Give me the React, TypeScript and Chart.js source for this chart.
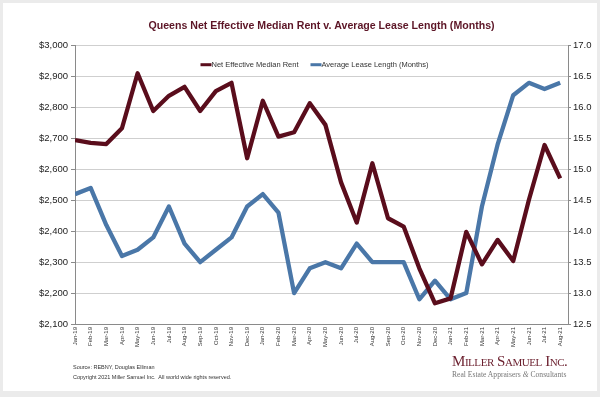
import React, { useEffect, useRef } from "react";
import { Chart, registerables } from "chart.js";

Chart.register(...registerables);

const labels = [
  "Jan-19", "Feb-19", "Mar-19", "Apr-19", "May-19", "Jun-19", "Jul-19", "Aug-19",
  "Sep-19", "Oct-19", "Nov-19", "Dec-19", "Jan-20", "Feb-20", "Mar-20", "Apr-20",
  "May-20", "Jun-20", "Jul-20", "Aug-20", "Sep-20", "Oct-20", "Nov-20", "Dec-20",
  "Jan-21", "Feb-21", "Mar-21", "Apr-21", "May-21", "Jun-21", "Jul-21", "Aug-21",
];

const rent = [
  2695, 2686, 2682, 2733, 2911, 2789, 2838, 2867, 2789, 2853, 2880, 2636,
  2822, 2706, 2720, 2814, 2744, 2558, 2428, 2620, 2442, 2415, 2280, 2167,
  2183, 2398, 2293, 2372, 2304, 2501, 2679, 2571,
];

const lease = [
  14.6, 14.7, 14.1, 13.6, 13.7, 13.9, 14.4, 13.8, 13.5, 13.7, 13.9, 14.4,
  14.6, 14.3, 13.0, 13.4, 13.5, 13.4, 13.8, 13.5, 13.5, 13.5, 12.9, 13.2,
  12.9, 13.0, 14.4, 15.4, 16.2, 16.4, 16.3, 16.4,
];

const seriesNames = ["Net Effective Median Rent", "Average Lease Length (Months)"];
const seriesColors = ["#5a0d1c", "#4a77a8"];
const titleText = "Queens Net Effective Median Rent v. Average Lease Length (Months)";

const FONT = "'Liberation Sans', Arial, Helvetica, sans-serif";

const legendPlugin = {
  id: "innerLegend",
  afterDatasetsDraw(chart: any) {
    const ctx = chart.ctx;
    const area = chart.chartArea;
    ctx.save();
    ctx.font = `7.5px ${FONT}`;
    ctx.textBaseline = "middle";
    const marker = 11;
    const gap = 12;
    const widths = chart.data.datasets.map((d: any) => marker + ctx.measureText(d.label).width);
    const total = widths.reduce((a: number, b: number) => a + b, 0) + gap * (widths.length - 1);
    let x = (area.left + area.right) / 2 - 7 - total / 2;
    const y = area.top + 19;
    chart.data.datasets.forEach((d: any, i: number) => {
      ctx.fillStyle = d.borderColor;
      ctx.fillRect(x, y - 1.5, marker, 3);
      ctx.fillStyle = "#333";
      ctx.fillText(d.label, x + marker, y);
      x += widths[i] + gap;
    });
    ctx.restore();
  },
};

export default function App() {
  const ref = useRef<HTMLCanvasElement>(null);

  useEffect(() => {
    if (!ref.current) return;
    const chart = new Chart(ref.current, {
      type: "line",
      data: {
        datasets: [
          {
            label: seriesNames[0],
            data: rent.map((v, i) => ({ x: i, y: v })),
            borderColor: seriesColors[0],
            backgroundColor: seriesColors[0],
            borderWidth: 4.3,
            pointRadius: 0,
            tension: 0,
            borderJoinStyle: "round",
            yAxisID: "y",
          },
          {
            label: seriesNames[1],
            data: lease.map((v, i) => ({ x: i, y: v })),
            borderColor: seriesColors[1],
            backgroundColor: seriesColors[1],
            borderWidth: 4.3,
            pointRadius: 0,
            tension: 0,
            borderJoinStyle: "round",
            yAxisID: "y1",
          },
        ],
      },
      options: {
        animation: false,
        responsive: false,
        maintainAspectRatio: false,
        layout: { padding: 0 },
        plugins: {
          legend: { display: false },
          tooltip: { enabled: false },
          title: {
            display: true,
            text: titleText,
            fullSize: false,
            color: "#5c1526",
            font: { family: FONT, size: 10.6, weight: "bold" },
            padding: { top: 20, bottom: 13 },
          },
        },
        scales: {
          x: {
            type: "linear",
            min: 0,
            max: 31.5,
            afterFit: (s: any) => { s.height = 73; },
            grid: { display: false, drawTicks: false },
            border: { display: true, color: "#8a8a8a" },
            ticks: {
              stepSize: 1,
              includeBounds: false,
              autoSkip: false,
              maxRotation: 90,
              minRotation: 90,
              padding: 3,
              color: "#333",
              font: { family: FONT, size: 6 },
              callback: (v: any) => (Number.isInteger(v) && labels[v] ? labels[v] : ""),
            },
          },
          y: {
            position: "left",
            min: 2100,
            max: 3000,
            afterFit: (s: any) => { s.width = 75; },
            grid: { color: "#cfcfcf", lineWidth: 1, tickLength: 4, tickColor: "#8a8a8a" },
            border: { display: true, color: "#8a8a8a" },
            ticks: {
              stepSize: 100,
              padding: 3,
              color: "#222",
              font: { family: FONT, size: 9.5 },
              callback: (v: any) => "$" + Number(v).toLocaleString("en-US"),
            },
          },
          y1: {
            position: "right",
            min: 12.5,
            max: 17,
            afterFit: (s: any) => { s.width = 32; },
            grid: { drawOnChartArea: false, tickLength: 3, tickColor: "#8a8a8a" },
            border: { display: true, color: "#8a8a8a" },
            ticks: {
              stepSize: 0.5,
              padding: 2,
              color: "#222",
              font: { family: FONT, size: 9.5 },
              callback: (v: any) => Number(v).toFixed(1),
            },
          },
        },
      },
      plugins: [legendPlugin],
    });
    return () => chart.destroy();
  }, []);

  return (
    <div style={{ position: "fixed", left: 0, top: 0, width: 600, height: 397, background: "#ebebeb", overflow: "hidden" }}>
      <div style={{ position: "absolute", left: 3, top: 3, width: 594, height: 388, background: "#fff" }} />
      <canvas ref={ref} width={600} height={397} style={{ position: "absolute", left: 0, top: 0, width: 600, height: 397 }} />
      <div style={{ position: "absolute", left: 73, top: 362, fontFamily: FONT, fontSize: 5.5, color: "#333", lineHeight: "10px", whiteSpace: "pre" }}>
        <div>Source: REBNY, Douglas Elliman</div>
        <div>Copyright 2021 Miller Samuel Inc.  All world wide rights reserved.</div>
      </div>
      <div style={{ position: "absolute", left: 452, top: 353, width: 118, textAlign: "left", fontFamily: "'Liberation Serif', 'DejaVu Serif', serif" }}>
        <div style={{ fontVariant: "small-caps", fontSize: 15, letterSpacing: -0.45, color: "#6b1f2e", lineHeight: "16px", whiteSpace: "nowrap" }}>Miller Samuel Inc.</div>
        <div style={{ fontSize: 7.6, color: "#777", lineHeight: "12px", whiteSpace: "nowrap" }}>Real Estate Appraisers <i>&amp;</i> Consultants</div>
      </div>
    </div>
  );
}
